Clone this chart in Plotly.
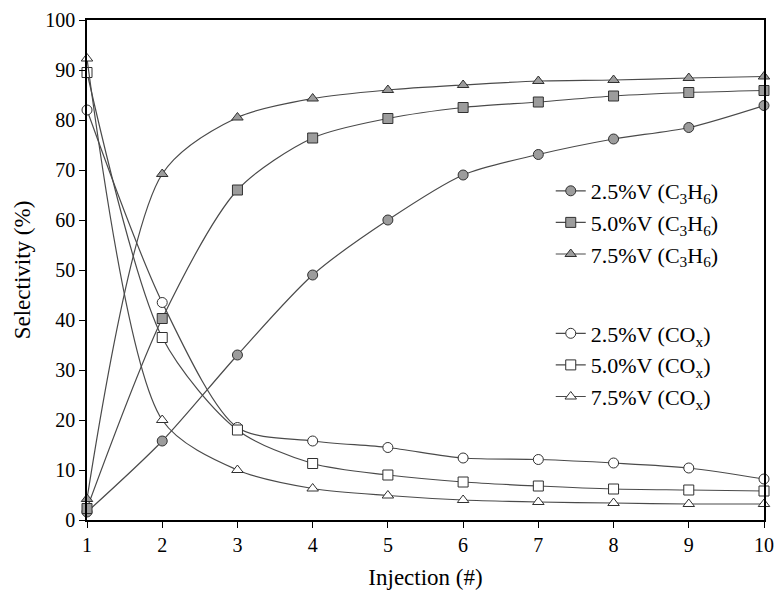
import plotly.graph_objects as go

injection = [1, 2, 3, 4, 5, 6, 7, 8, 9, 10]

c3h6_25 = [1.6, 15.8, 33.0, 49.0, 60.0, 69.0, 73.1, 76.2, 78.5, 82.9]
c3h6_50 = [2.3, 40.3, 66.0, 76.4, 80.3, 82.5, 83.6, 84.8, 85.5, 85.9]
c3h6_75 = [4.2, 69.2, 80.5, 84.3, 86.0, 87.0, 87.8, 88.0, 88.4, 88.7]

cox_25 = [82.0, 43.5, 18.5, 15.8, 14.5, 12.4, 12.1, 11.4, 10.4, 8.2]
cox_50 = [89.5, 36.5, 18.0, 11.3, 9.0, 7.6, 6.8, 6.2, 6.0, 5.8]
cox_75 = [92.3, 20.0, 10.0, 6.3, 4.9, 4.0, 3.6, 3.4, 3.2, 3.2]

names_c3h6 = ["2.5%V (C<sub>3</sub>H<sub>6</sub>)", "5.0%V (C<sub>3</sub>H<sub>6</sub>)", "7.5%V (C<sub>3</sub>H<sub>6</sub>)"]
names_cox = ["2.5%V (CO<sub>x</sub>)", "5.0%V (CO<sub>x</sub>)", "7.5%V (CO<sub>x</sub>)"]
symbols = ["circle", "square", "triangle-up"]

LINE = "#4a4a4a"
FILL = "#9c9c9c"
FONT = "Liberation Serif, Times New Roman, serif"

fig = go.Figure()
for ys, name, sym in zip([c3h6_25, c3h6_50, c3h6_75], names_c3h6, symbols):
    fig.add_trace(go.Scatter(
        x=injection, y=ys, name=name, mode="lines+markers",
        line=dict(color=LINE, width=1.2, shape="spline", smoothing=0.8),
        marker=dict(symbol=sym, size=10, color=FILL,
                    line=dict(color="#303030", width=1)),
        cliponaxis=False, legend="legend"))
for ys, name, sym in zip([cox_25, cox_50, cox_75], names_cox, symbols):
    fig.add_trace(go.Scatter(
        x=injection, y=ys, name=name, mode="lines+markers",
        line=dict(color=LINE, width=1.2, shape="spline", smoothing=0.8),
        marker=dict(symbol=sym, size=10, color="white",
                    line=dict(color="#303030", width=1)),
        cliponaxis=False, legend="legend2"))

fig.update_layout(
    width=774, height=590,
    margin=dict(l=87, r=10, t=20, b=70, autoexpand=False),
    paper_bgcolor="white", plot_bgcolor="white",
    font=dict(family=FONT, size=20, color="black"),
    legend=dict(x=0.685, y=0.70, xanchor="left", yanchor="top",
                font=dict(family=FONT, size=22), bgcolor="rgba(0,0,0,0)",
                itemwidth=30, tracegroupgap=0),
    legend2=dict(x=0.685, y=0.415, xanchor="left", yanchor="top",
                 font=dict(family=FONT, size=22), bgcolor="rgba(0,0,0,0)",
                 itemwidth=30, tracegroupgap=0),
    xaxis=dict(range=[1, 10], tickvals=injection, showgrid=False, zeroline=False,
               showline=True, linecolor="black", linewidth=1.5, mirror=True,
               ticks="outside", ticklen=6, tickcolor="black", automargin=False,
               title=dict(text="Injection (#)", font=dict(family=FONT, size=23), standoff=14)),
    yaxis=dict(range=[0, 100], dtick=10, showgrid=False, zeroline=False,
               showline=True, linecolor="black", linewidth=1.5, mirror=True,
               ticks="outside", ticklen=6, tickcolor="black", automargin=False,
               title=dict(text="Selectivity (%)", font=dict(family=FONT, size=23), standoff=8)),
)

fig.write_html("out.html")
